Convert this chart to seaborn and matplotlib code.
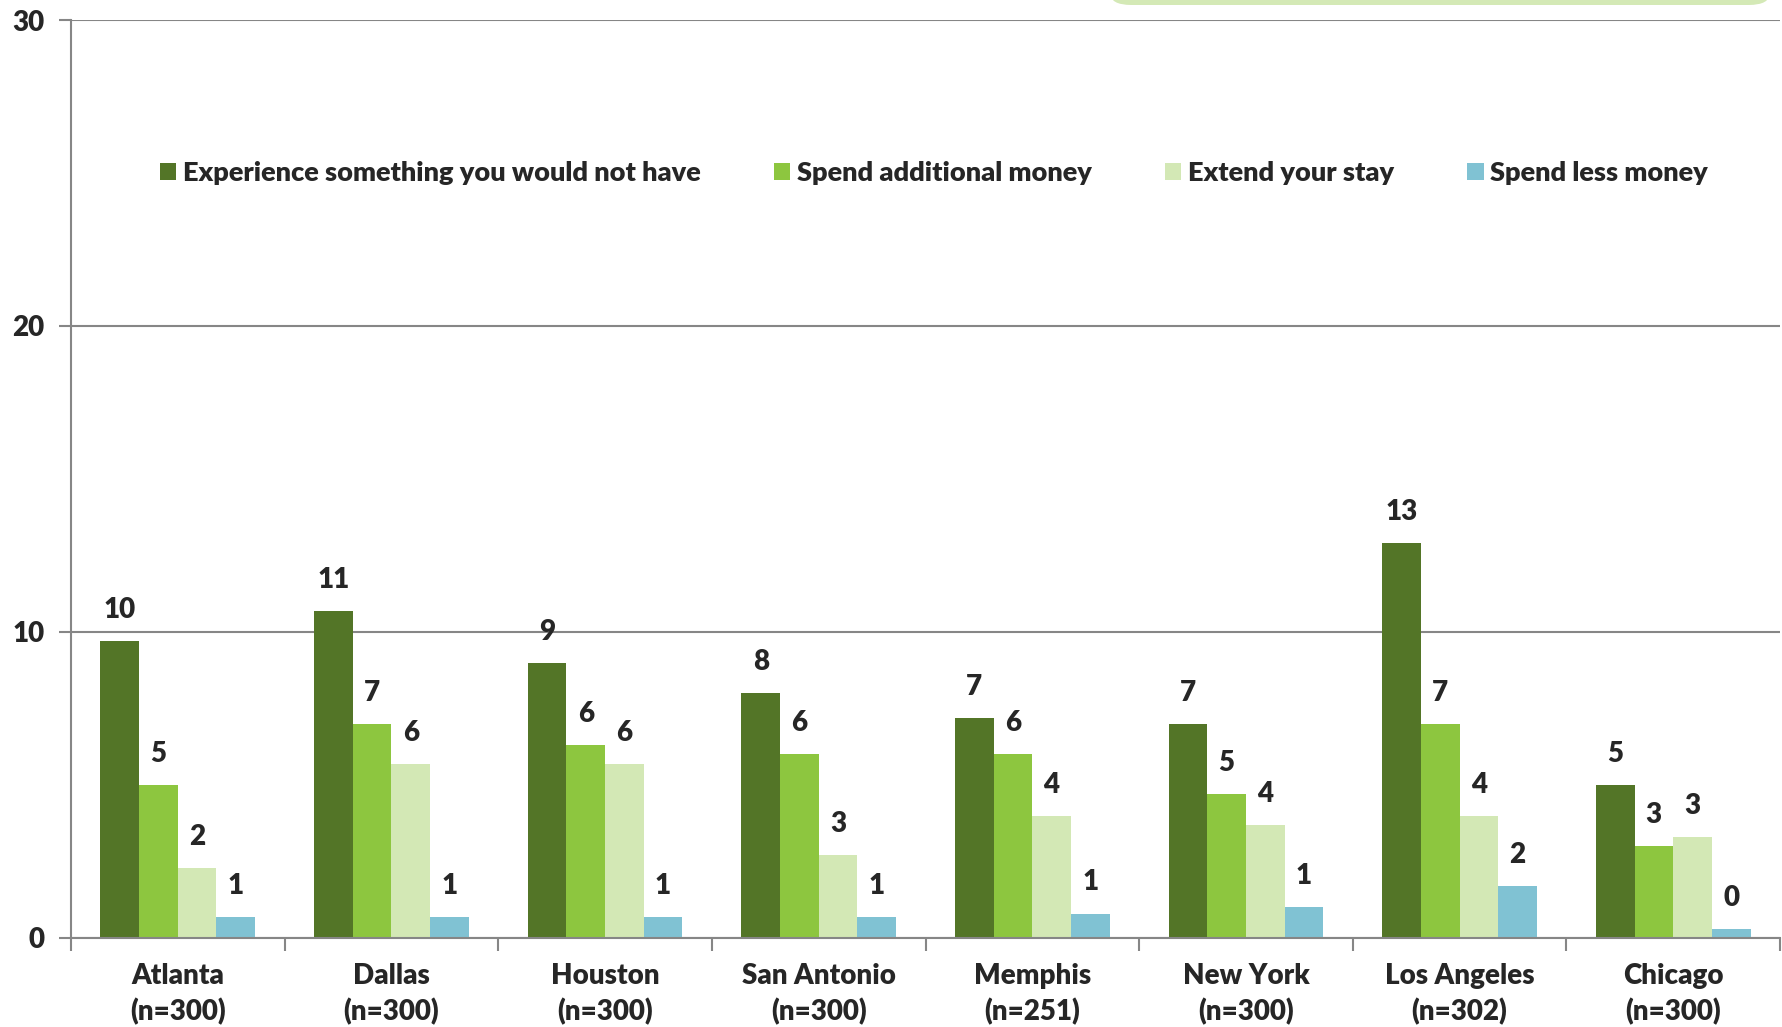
import numpy as np
import pandas as pd
import matplotlib
matplotlib.use("Agg")
import matplotlib.pyplot as plt
import seaborn as sns
from matplotlib.patches import Patch, FancyBboxPatch

# =========================================================
# DATA
# =========================================================

cities = ["Atlanta\n(n=300)", "Dallas\n(n=300)", "Houston\n(n=300)",
          "San Antonio\n(n=300)", "Memphis\n(n=251)", "New York\n(n=300)",
          "Los Angeles\n(n=302)", "Chicago\n(n=300)"]

series = ["Experience something you would not have",
          "Spend additional money",
          "Extend your stay",
          "Spend less money"]

experience = [9.7, 10.7, 9.0, 8.0, 7.2, 7.0, 12.9, 5.0]
spend_more = [5.0, 7.0, 6.3, 6.0, 6.0, 4.7, 7.0, 3.0]
extend_stay = [2.3, 5.7, 5.7, 2.7, 4.0, 3.7, 4.0, 3.3]
spend_less = [0.7, 0.7, 0.7, 0.7, 0.8, 1.0, 1.7, 0.3]

colors = ["#537527", "#8DC63F", "#D3E8B5", "#80C2D3"]

df = pd.DataFrame({
    "city": cities * 4,
    "series": [s for s in series for _ in cities],
    "value": experience + spend_more + extend_stay + spend_less,
})

# =========================================================
# PLOT
# =========================================================

FS = 19.5
WEIGHT = "heavy"

sns.set_style("white")
plt.rcParams["font.family"] = ["Lato", "DejaVu Sans"]
plt.rcParams["font.weight"] = WEIGHT

fig = plt.figure(figsize=(17.82, 10.27), dpi=100)
ax = fig.add_axes([71 / 1782, 89 / 1027, 1709 / 1782, 918 / 1027])

sns.barplot(data=df, x="city", y="value", hue="series", hue_order=series,
            palette=colors, saturation=1, width=0.724, errorbar=None,
            legend=False, linewidth=0, ax=ax)

for cont in ax.containers:
    ax.bar_label(cont, fmt="{:.0f}", padding=13, fontsize=20, fontweight=WEIGHT)

ax.set_ylim(0, 30)
ax.set_xlim(-0.5, len(cities) - 0.5)
ax.set_yticks([0, 10, 20, 30])
ax.yaxis.grid(True, color="#868686", linewidth=1.5)
ax.set_axisbelow(True)
ax.set_xlabel("")
ax.set_ylabel("")

for side in ["top", "right"]:
    ax.spines[side].set_visible(False)
for side in ["left", "bottom"]:
    ax.spines[side].set_color("#868686")
    ax.spines[side].set_linewidth(1.5)

ax.tick_params(axis="y", length=9, width=1.5, color="#868686", pad=10,
               labelsize=20, left=True)
ax.tick_params(axis="x", which="major", length=0, pad=18, labelsize=20)
ax.set_xticks(np.arange(-0.5, len(cities), 1.0), minor=True)
ax.tick_params(axis="x", which="minor", length=9, width=1.5, color="#868686",
               bottom=True)
for lab in ax.get_xticklabels() + ax.get_yticklabels():
    lab.set_fontweight(WEIGHT)
for lab in ax.get_xticklabels():
    lab.set_linespacing(1.4)

handles = [Patch(facecolor=c, edgecolor="none") for c in colors]
ax.legend(handles, series, loc="center", bbox_to_anchor=(0.505, 0.833),
          ncol=4, frameon=False, fontsize=FS, handlelength=0.6,
          handleheight=0.6, handletextpad=0.25, columnspacing=2.7)
for t in ax.get_legend().get_texts():
    t.set_fontweight(WEIGHT)

# rounded box peeking in at the top edge
box = FancyBboxPatch((1110 / 1782, 1 - 5 / 1027), 660 / 1782, 0.05,
                     boxstyle="round,pad=0,rounding_size=0.012",
                     transform=fig.transFigure, facecolor="#D4E9B6",
                     edgecolor="none")
fig.patches.append(box)

fig.savefig("out.png", dpi=100)
